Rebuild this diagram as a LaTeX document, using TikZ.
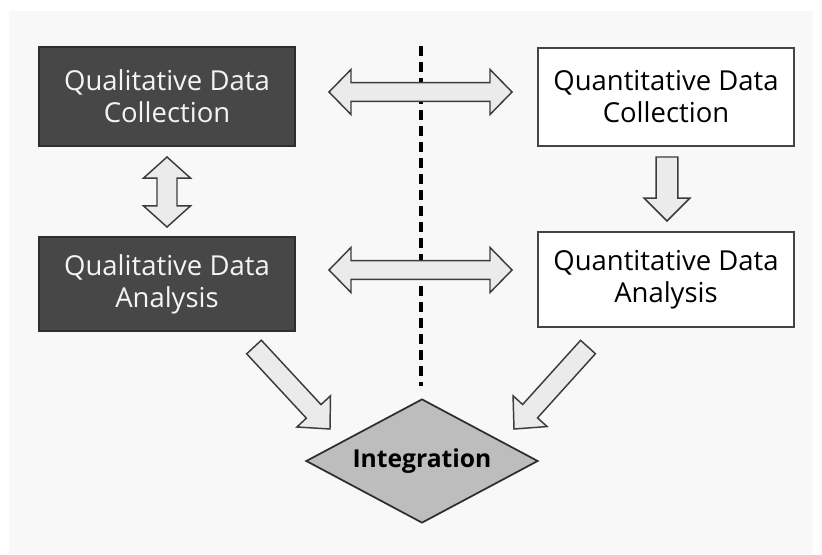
\documentclass[tikz,border=0pt]{standalone}
\usepackage{fontspec}
\setmainfont{Open Sans}
\usetikzlibrary{calc,shapes.geometric}

\definecolor{panelbg}{HTML}{F8F8F8}
\definecolor{darkfill}{HTML}{474747}
\definecolor{darkline}{HTML}{2E2E2E}
\definecolor{boxline}{HTML}{444444}
\definecolor{arrowfill}{HTML}{EBEBEB}
\definecolor{arrowline}{HTML}{3C3C3C}
\definecolor{diamondfill}{HTML}{BDBDBD}
\definecolor{labelwhite}{HTML}{F4F4F4}

\tikzset{
  darkbox/.style={rectangle, fill=darkfill, draw=darkline, line width=1.4pt,
    text=labelwhite, align=center, minimum width=192pt, inner sep=0pt,
    font=\fontsize{20.6pt}{24pt}\selectfont},
  lightbox/.style={rectangle, fill=white, draw=boxline, line width=1.4pt,
    text=black, align=center, minimum width=192pt, inner sep=0pt,
    font=\fontsize{20.6pt}{24pt}\selectfont},
  decision/.style={diamond, fill=diamondfill, draw=darkline, line width=1.3pt,
    inner sep=0pt, minimum width=174pt, minimum height=93pt, aspect=1.87,
    font=\fontsize{18.5pt}{22pt}\selectfont\bfseries},
  blockarrow/.style={fill=arrowfill, draw=arrowline, line width=1.1pt, line join=miter},
  divider/.style={draw=black, line width=2.6pt, dash pattern=on 7.5pt off 4.5pt}
}

% fat two-headed arrow: #1,#2 tips; #3 half shaft; #4 half head; #5 head length
\newcommand{\fatdouble}[5]{%
  \path ($(#1)!#5!(#2)$) coordinate (ha) ($(#2)!#5!(#1)$) coordinate (hb);
  \draw[blockarrow] (#1)
    -- ($(ha)!#4!90:(#2)$) -- ($(ha)!#3!90:(#2)$)
    -- ($(hb)!#3!90:(#2)$) -- ($(hb)!#4!90:(#2)$)
    -- (#2)
    -- ($(hb)!#4!-90:(#2)$) -- ($(hb)!#3!-90:(#2)$)
    -- ($(ha)!#3!-90:(#2)$) -- ($(ha)!#4!-90:(#2)$)
    -- cycle;}

% fat one-headed arrow: #1 tail centre, #2 tip; sizes as above
\newcommand{\fatsingle}[5]{%
  \path ($(#2)!#5!(#1)$) coordinate (hb);
  \draw[blockarrow] ($(#1)!#3!90:(#2)$)
    -- ($(hb)!#3!90:(#2)$) -- ($(hb)!#4!90:(#2)$)
    -- (#2)
    -- ($(hb)!#4!-90:(#2)$) -- ($(hb)!#3!-90:(#2)$)
    -- ($(#1)!#3!-90:(#2)$)
    -- cycle;}

\begin{document}
\begin{tikzpicture}[x=0.75pt, y=-0.75pt]
  \useasboundingbox (0,0) rectangle (822,554);
  \fill[white] (0,0) rectangle (822,554);
  \fill[panelbg] (9,11) rectangle (813,554);

  % the four stages
  \node[darkbox, minimum height=74.25pt] (qlc) at (167,96.5) {Qualitative Data\\Collection};
  \node[darkbox, minimum height=70.5pt] (qla) at (167,284) {Qualitative Data\\Analysis};
  \node[lightbox, minimum height=73.5pt] (qnc) at (666,97) {Quantitative Data\\Collection};
  \node[lightbox, minimum height=71.25pt] (qna) at (666,279.5) {Quantitative Data\\Analysis};
  \node[decision] (integ) at (422,461) {\raisebox{-1.5pt}{Integration}};

  % dividing line between the two strands
  \coordinate (dtop) at (421,46);
  \coordinate (dbot) at (421,386);
  \draw[divider] (dtop) -- (dbot);

  % arrow end points
  \coordinate (ta1) at (329,92);
  \coordinate (ta2) at (512,92);
  \coordinate (ba1) at (329,270);
  \coordinate (ba2) at (512,270);
  \coordinate (va1) at (167,157);
  \coordinate (va2) at (167,227);
  \coordinate (da1) at (667,157);
  \coordinate (da2) at (667,221);
  \coordinate (la1) at (254,347);
  \coordinate (la2) at (330,429);
  \coordinate (ra1) at (588,347);
  \coordinate (ra2) at (514,429);

  \fatdouble{ta1}{ta2}{7.1pt}{16.9pt}{16.5pt}
  \fatdouble{ba1}{ba2}{7.1pt}{16.9pt}{16.5pt}
  \fatdouble{va1}{va2}{7.5pt}{17.6pt}{15.8pt}
  \fatsingle{da1}{da2}{8.2pt}{17.2pt}{17.2pt}
  \fatsingle{la1}{la2}{7.5pt}{17.2pt}{18pt}
  \fatsingle{ra1}{ra2}{7.5pt}{17.2pt}{18pt}
\end{tikzpicture}
\end{document}
